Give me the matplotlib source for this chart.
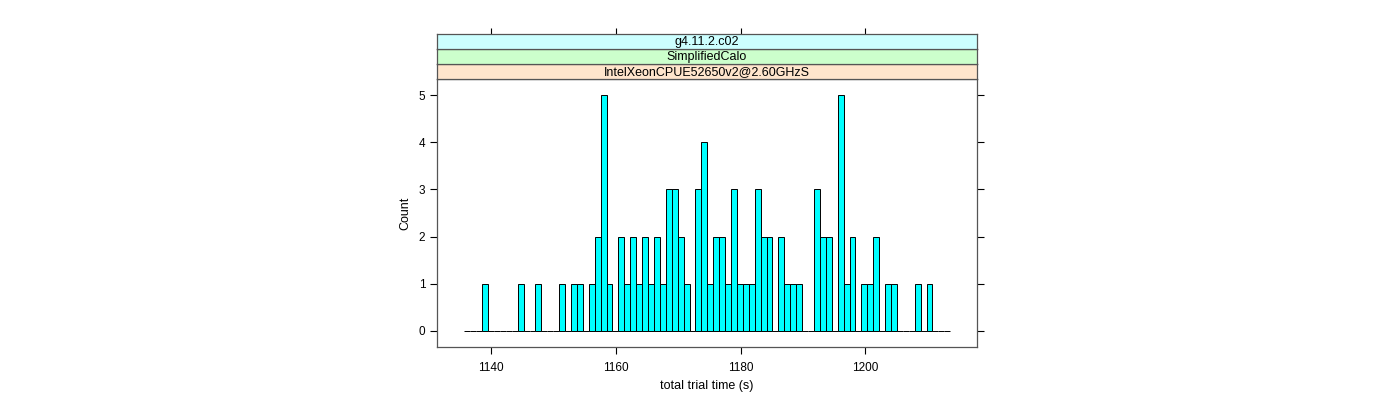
import numpy as np
import matplotlib
matplotlib.use("Agg")
import matplotlib.pyplot as plt

# histogram range and per-bin counts (82 bins)
hist_lo = 1135.72
hist_hi = 1213.62
counts = [0, 0, 0, 1, 0, 0, 0, 0, 0, 1,
          0, 0, 1, 0, 0, 0, 1, 0, 1, 1,
          0, 1, 2, 5, 1, 0, 2, 1, 2, 1,
          2, 1, 2, 1, 3, 3, 2, 1, 0, 3,
          4, 1, 2, 2, 1, 3, 1, 1, 1, 3,
          2, 2, 0, 2, 1, 1, 1, 0, 0, 3,
          2, 2, 0, 5, 1, 2, 0, 1, 1, 2,
          0, 1, 1, 0, 0, 0, 1, 0, 1, 0,
          0, 0]
x_ticks = [1140, 1160, 1180, 1200]
y_ticks = [0, 1, 2, 3, 4, 5]
strip_labels = ["IntelXeonCPUE52650v2@2.60GHzS", "SimplifiedCalo", "g4.11.2.c02"]
strip_colors = ["#ffe5cc", "#ccffcc", "#ccffff"]

plt.rcParams['font.family'] = ['Liberation Sans', 'DejaVu Sans']

W, H = 1400, 400
fig = plt.figure(figsize=(14, 4), dpi=100)

xlim = (1131.34, 1217.91)
left, right, bottom, top = 437, 977, 347, 79
ax = fig.add_axes([left / W, 1 - bottom / H, (right - left) / W, (bottom - top) / H])

edges = np.linspace(hist_lo, hist_hi, len(counts) + 1)
width = edges[1] - edges[0]
ax.bar(edges[:-1], counts, width=width, align='edge',
       color='#00ffff', edgecolor='black', linewidth=0.7)

ax.set_xlim(*xlim)
ax.set_ylim(-0.339, 5.339)
ax.set_xticks(x_ticks)
ax.set_yticks(y_ticks)
ax.tick_params(direction='out', length=5, width=0.8, labelsize=8.5, colors='black',
               right=True, top=False)
ax.tick_params(axis='x', pad=6)
for s in ax.spines.values():
    s.set_color('#555555')
    s.set_linewidth(0.9)
ax.set_xlabel("total trial time (s)", fontsize=9, labelpad=4)
ax.set_ylabel("Count", fontsize=9, labelpad=5)

# strips above the panel
sh = 15
for i, (lab, col) in enumerate(zip(strip_labels, strip_colors)):
    y_top = top - sh * (i + 1)
    sax = fig.add_axes([left / W, 1 - (y_top + sh) / H, (right - left) / W, sh / H])
    sax.set_facecolor(col)
    sax.set_xlim(*xlim)
    sax.set_ylim(0, 1)
    sax.set_yticks([])
    if i == len(strip_labels) - 1:
        sax.set_xticks(x_ticks)
        sax.tick_params(axis='x', direction='out', length=4, width=0.8,
                        bottom=False, top=True, labelbottom=False, labeltop=False)
    else:
        sax.set_xticks([])
    for s in sax.spines.values():
        s.set_color('#555555')
        s.set_linewidth(0.9)
    sax.text(0.5, 0.45, lab, transform=sax.transAxes, ha='center', va='center',
             fontsize=9)

fig.savefig("out.png", dpi=100)
